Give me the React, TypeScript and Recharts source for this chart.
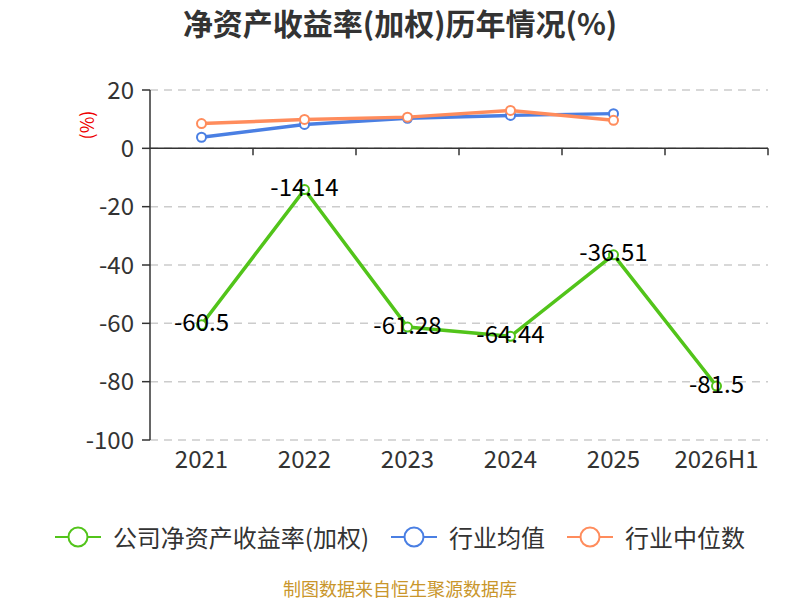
import { CartesianGrid, LabelList, Line, LineChart, ReferenceLine, XAxis, YAxis } from 'recharts'

const years = ['2021', '2022', '2023', '2024', '2025', '2026H1']
const companyRoe = [-60.5, -14.14, -61.28, -64.44, -36.51, -81.5]
const industryAvg = [3.8, 8.2, 10.3, 11.3, 11.9, null]
const industryMedian = [8.5, 9.9, 10.7, 13.0, 9.6, null]
const yTicks = [20, 0, -20, -40, -60, -80, -100]
const xTicks = [0, 1, 2, 3, 4, 5]
const boundaryTicks = [0.5, 1.5, 2.5, 3.5, 4.5, 5.5]

const GREEN = '#52C41A'
const BLUE = '#4A7FE3'
const ORANGE = '#FF8C5C'

const chartData = years.map((year, i) => ({
  idx: i,
  year,
  company: companyRoe[i],
  avg: industryAvg[i],
  median: industryMedian[i],
}))

const legendItems = [
  { name: '公司净资产收益率(加权)', color: GREEN },
  { name: '行业均值', color: BLUE },
  { name: '行业中位数', color: ORANGE },
]

const FONT = '"Noto Sans CJK SC", "Noto Sans", sans-serif'

const renderLabel = (props: any) => {
  const { x, y, value } = props
  return (
    <text
      x={x}
      y={y}
      dy={-4}
      textAnchor="middle"
      dominantBaseline="central"
      fontSize={24}
      fill="#000"
    >
      {value}
    </text>
  )
}

function LegendIcon({ color }: { color: string }) {
  return (
    <svg width={46} height={24}>
      <line x1={0} y1={12} x2={46} y2={12} stroke={color} strokeWidth={2} />
      <circle cx={23} cy={12} r={9.5} fill="#fff" stroke={color} strokeWidth={2} />
    </svg>
  )
}

export default function App() {
  return (
    <div
      style={{
        position: 'absolute',
        left: 0,
        top: 0,
        width: 800,
        height: 600,
        background: '#fff',
        fontFamily: FONT,
        overflow: 'hidden',
      }}
    >
      <div
        style={{
          position: 'absolute',
          top: 4,
          width: 800,
          textAlign: 'center',
          fontSize: 30,
          lineHeight: '36px',
          fontWeight: 'bold',
          color: '#333',
        }}
      >
        净资产收益率(加权)历年情况(%)
      </div>

      <div
        style={{
          position: 'absolute',
          left: 72,
          top: 114,
          fontSize: 18,
          lineHeight: '22px',
          color: '#e00',
          transform: 'rotate(-90deg)',
          transformOrigin: 'center',
        }}
      >
        (%)
      </div>

      <LineChart
        width={800}
        height={600}
        data={chartData}
        margin={{ top: 90, right: 32, bottom: 130, left: 90 }}
      >
        <CartesianGrid
          horizontal
          vertical={false}
          stroke="#ccc"
          strokeDasharray="8 6"
          strokeWidth={1.5}
        />
        <XAxis
          dataKey="idx"
          type="number"
          domain={[-0.5, 5.5]}
          ticks={xTicks}
          interval={0}
          tickFormatter={(v) => years[v]}
          axisLine={false}
          tickLine={false}
          tickSize={6}
          tickMargin={5}
          height={30}
          tick={{ fill: '#333', fontSize: 24 }}
        />
        <YAxis
          domain={[-100, 20]}
          ticks={yTicks}
          interval={0}
          width={60}
          stroke="#333"
          strokeWidth={1.5}
          tickSize={8}
          tickMargin={8}
          tick={{ fill: '#333', fontSize: 24 }}
        />
        <ReferenceLine y={0} stroke="#333" strokeWidth={1.5} />
        {boundaryTicks.map((b) => (
          <ReferenceLine
            key={b}
            segment={[
              { x: b, y: 0 },
              { x: b, y: -2.4 },
            ]}
            stroke="#333"
            strokeWidth={1.5}
          />
        ))}
        <Line
          dataKey="avg"
          stroke={BLUE}
          strokeWidth={3.5}
          dot={{ r: 4.5, fill: '#fff', strokeWidth: 2 }}
          isAnimationActive={false}
        />
        <Line
          dataKey="median"
          stroke={ORANGE}
          strokeWidth={3.5}
          dot={{ r: 4.5, fill: '#fff', strokeWidth: 2 }}
          isAnimationActive={false}
        />
        <Line
          dataKey="company"
          stroke={GREEN}
          strokeWidth={3.5}
          dot={{ r: 4.5, fill: '#fff', strokeWidth: 2 }}
          isAnimationActive={false}
        >
          <LabelList dataKey="company" content={renderLabel} />
        </Line>
      </LineChart>

      <div
        style={{
          position: 'absolute',
          top: 522,
          width: 800,
          display: 'flex',
          justifyContent: 'center',
          alignItems: 'center',
          gap: 22,
          fontSize: 24,
          lineHeight: '30px',
          color: '#333',
        }}
      >
        {legendItems.map((item) => (
          <div key={item.name} style={{ display: 'flex', alignItems: 'center', gap: 12 }}>
            <LegendIcon color={item.color} />
            <span>{item.name}</span>
          </div>
        ))}
      </div>

      <div
        style={{
          position: 'absolute',
          top: 578,
          width: 800,
          textAlign: 'center',
          fontSize: 18,
          lineHeight: '20px',
          color: '#C9962B',
        }}
      >
        制图数据来自恒生聚源数据库
      </div>
    </div>
  )
}
